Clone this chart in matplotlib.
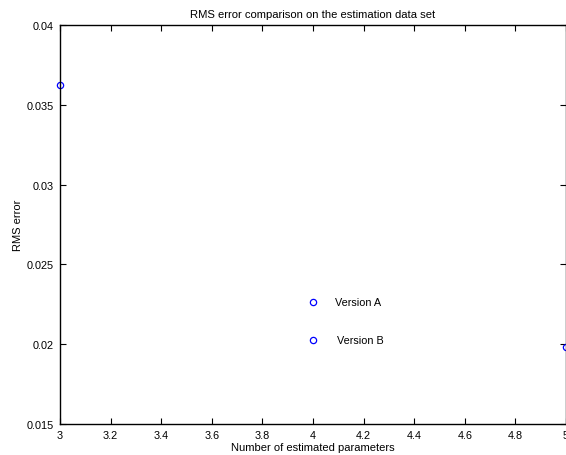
import matplotlib
matplotlib.use("Agg")
import matplotlib.pyplot as plt

plt.rcParams['font.family'] = ['Liberation Sans', 'DejaVu Sans']

# data
n_params = [3, 5]
rms_err = [0.03624, 0.0198]
legend_x = [4, 4]
legend_y = [0.02264, 0.02026]
legend_labels = ['Version A', 'Version B']

fig = plt.figure(figsize=(5.66, 4.56), dpi=100)
ax = fig.add_axes([60/566, 1 - 425/456, 506/566, 399/456])

ax.plot(n_params, rms_err, 'o', mfc='none', mec='blue', ms=4.5, mew=0.9, clip_on=False)
ax.plot(legend_x, legend_y, 'o', mfc='none', mec='blue', ms=4.5, mew=0.9)
ax.text(legend_x[0] + 0.085, legend_y[0], legend_labels[0], fontsize=7.8, va='center')
ax.text(legend_x[1] + 0.095, legend_y[1], legend_labels[1], fontsize=7.8, va='center')

ax.set_xlim(3, 5)
ax.set_ylim(0.015, 0.04)
ax.set_xticks([3, 3.2, 3.4, 3.6, 3.8, 4, 4.2, 4.4, 4.6, 4.8, 5])
ax.set_xticklabels(['3', '3.2', '3.4', '3.6', '3.8', '4', '4.2', '4.4', '4.6', '4.8', '5'])
ax.set_yticks([0.015, 0.02, 0.025, 0.03, 0.035, 0.04])
ax.set_yticklabels(['0.015', '0.02', '0.025', '0.03', '0.035', '0.04'])
ax.tick_params(direction='in', top=True, right=True, length=4, width=0.8, labelsize=7.8, pad=4.5)
for key, spine in ax.spines.items():
    spine.set_linewidth(1.0)

ax.set_title('RMS error comparison on the estimation data set', fontsize=8.1, pad=6)
ax.set_xlabel('Number of estimated parameters', fontsize=8.0, labelpad=1)
ax.set_ylabel('RMS error', fontsize=8.0, labelpad=2.5)

fig.savefig('out.png', dpi=100)
